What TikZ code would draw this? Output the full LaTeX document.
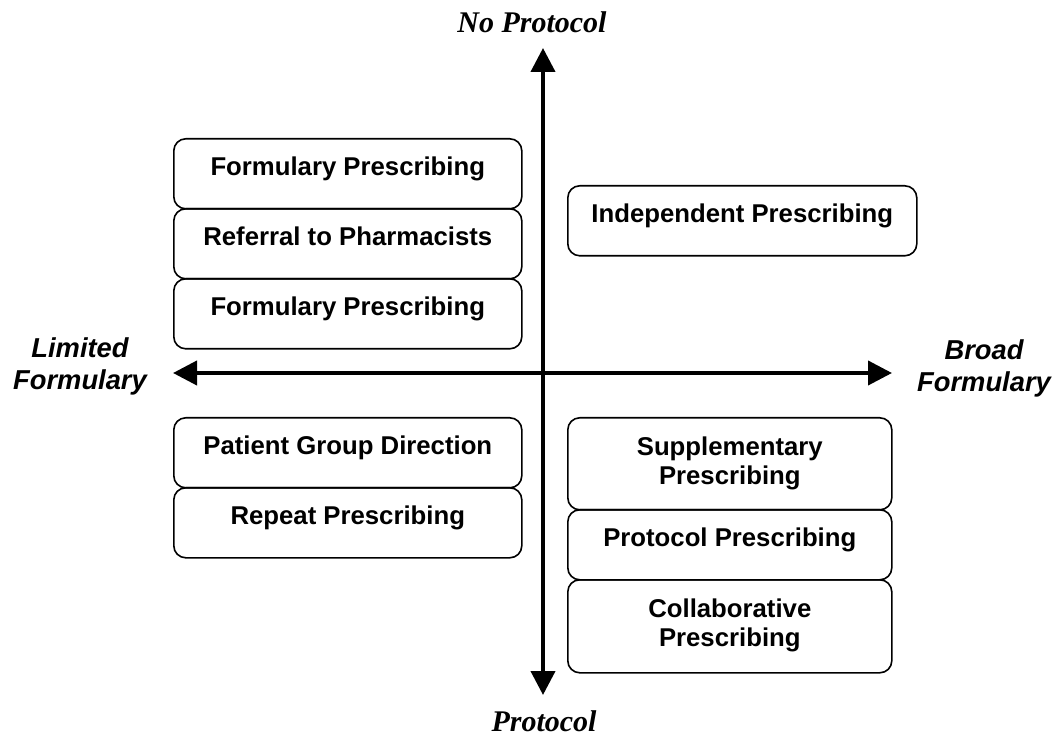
\documentclass[tikz,border=0pt]{standalone}
\usepackage{fontspec}
\setmainfont{Liberation Serif}
\setsansfont{Liberation Sans}
\usetikzlibrary{arrows.meta}
\tikzset{
	mode/.style={draw, line width=1.2pt, rounded corners=9pt, inner sep=0pt, align=center, anchor=north west,
		font=\sffamily\bfseries\fontsize{19.3}{21.75}\selectfont, text height=27.75pt},
	axis/.style={line width=3pt, {Triangle[length=18pt,width=18pt]}-{Triangle[length=18pt,width=18pt]}},
	pole/.style={font=\rmfamily\bfseries\itshape\fontsize{22.5}{26}\selectfont, anchor=base},
	scope label/.style={font=\sffamily\bfseries\itshape\fontsize{20.5}{24}\selectfont, align=center, anchor=base}
}
\begin{document}
\begin{tikzpicture}[x=0.75pt, y=-0.75pt]
		\useasboundingbox (0,0) rectangle (1060,737);
		%axes
		\coordinate (top) at (543,48);
		\coordinate (bottom) at (543,695);
		\coordinate (left) at (173,373);
		\coordinate (right) at (892,373);
		\draw[axis] (bottom) -- (top);
		\draw[axis] (left) -- (right);
		\node[pole] (noproto) at (532,33){No Protocol};
		\node[pole] (proto) at (544,731){Protocol};
		\node[scope label] (limited) at (80,390){Limited\\Formulary};
		\node[scope label] (broad) at (984,392){Broad\\Formulary};
		
		%limited formulary, no protocol
		\node[mode, minimum width=261pt, minimum height=52.5pt, text depth=24.75pt] (formA) at (173,138){Formulary Prescribing};
		\node[mode, minimum width=261pt, minimum height=52.5pt, text depth=24.75pt] (referral) at (173,208){Referral to Pharmacists};
		\node[mode, minimum width=261pt, minimum height=52.5pt, text depth=24.75pt] (formB) at (173,278){Formulary Prescribing};
		
		%broad formulary, no protocol
		\node[mode, minimum width=261.75pt, minimum height=52.5pt, text depth=24.75pt] (independent) at (567,185){Independent Prescribing};
		
		%limited formulary, protocol
		\node[mode, minimum width=261pt, minimum height=52.5pt, text depth=24.75pt] (pgd) at (173,417){Patient Group Direction};
		\node[mode, minimum width=261pt, minimum height=52.5pt, text depth=24.75pt] (repeat) at (173,487){Repeat Prescribing};
		
		%broad formulary, protocol
		\node[mode, minimum width=243pt, minimum height=69pt, text height=50.25pt, text depth=18.75pt] (supp) at (567,417){Supplementary\\Prescribing};
		\node[mode, minimum width=243pt, minimum height=52.5pt, text depth=24.75pt] (protocol) at (567,509){Protocol Prescribing};
		\node[mode, minimum width=243pt, minimum height=69.75pt, text height=50.25pt, text depth=19.5pt] (collab) at (567,579){Collaborative\\Prescribing};
\end{tikzpicture}
\end{document}
